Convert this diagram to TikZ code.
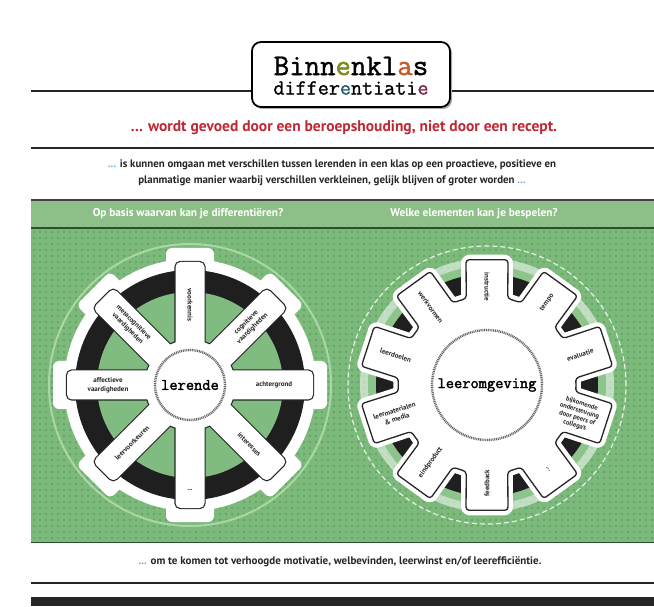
\documentclass[tikz,border=0pt]{standalone}
\usepackage{fontspec}
\setmainfont{PT Sans}
\newfontfamily\titlemono{Latin Modern Mono}[FakeBold=1.3]
\newfontfamily\hubmono{Latin Modern Mono}[FakeBold=2]
\definecolor{redtxt}{RGB}{190,40,52}
\definecolor{dottxt}{RGB}{100,170,210}
\definecolor{fieldgreen}{RGB}{124,186,124}
\definecolor{dotgreen}{RGB}{104,164,104}
\definecolor{headgreen}{RGB}{143,191,137}
\definecolor{darkgreen}{RGB}{40,80,45}
\definecolor{innergreen}{RGB}{128,188,128}
\definecolor{ringgreen}{RGB}{140,196,140}
\definecolor{palegreen}{RGB}{170,215,165}
\definecolor{tolive}{RGB}{130,140,30}
\definecolor{torange}{RGB}{200,90,40}
\definecolor{tteal}{RGB}{40,90,110}
\definecolor{tmaroon}{RGB}{120,40,80}
\tikzset{
  lab/.style={font=\bfseries\fontsize{7}{8.6}\selectfont, align=center, text=black!85, inner sep=0pt},
  rule/.style={line width=2.5pt, black!85},
  hubc/.style={circle, fill=white, draw=black!60, line width=2.4pt, dash pattern=on 1pt off 0.8pt, font=\hubmono\fontsize{16}{16}\selectfont, inner sep=0pt},
  spokebox/.style={rounded corners=5pt},
}
\begin{document}
\begin{tikzpicture}[x=1pt,y=1pt]
\useasboundingbox (0,0) rectangle (654,606);
\fill[white] (0,0) rectangle (654,606);

% ---- title area
\draw[rule] (31,515) -- (654,515);
\fill[black!35, rounded corners=9pt] (254,497) rectangle (452,562);
\node[draw, line width=1.8pt, rounded corners=9pt, fill=white, minimum width=198pt, minimum height=65pt] (title) at (351,531.5) {};
\node[inner sep=0pt] (t1) at (351,540) {\titlemono\fontsize{30}{30}\selectfont Binn\textcolor{tolive}{e}nkl\textcolor{torange}{a}s};
\node[inner sep=0pt] (t2) at (351,518) {\titlemono\fontsize{21.5}{21.5}\selectfont differ\textcolor{tteal}{e}ntiati\textcolor{tmaroon}{e}};

\node[text=redtxt, font=\bfseries\fontsize{15.5}{16}\selectfont] (red) at (344,478) {... wordt gevoed door een beroepshouding, niet door een recept.};
\draw[rule] (31,458) -- (654,458);

\node[align=center, text=black!85, font=\bfseries\fontsize{10.9}{16.5}\selectfont] (def) at (332,433)
 {\textcolor{dottxt}{...} is kunnen omgaan met verschillen tussen lerenden in een klas op een proactieve, positieve en\\
  planmatige manier waarbij verschillen verkleinen, gelijk blijven of groter worden \textcolor{dottxt}{...}};

% ---- green field
\fill[fieldgreen] (31,64) rectangle (654,378);
\foreach \yy in {68,74,...,374} \draw[dotgreen, line width=2pt, dash pattern=on 2pt off 4pt] (33,\yy) -- (654,\yy);
\fill[headgreen] (31,379) rectangle (654,405);
\draw[black!75, line width=1.6pt] (31,406) -- (654,406);
\draw[darkgreen, line width=1.6pt] (31,378) -- (654,378);
\draw[darkgreen, line width=1.6pt] (31,63.5) -- (654,63.5);
\node[text=white, font=\bfseries\fontsize{11.3}{12}\selectfont] (q1) at (188,392) {Op basis waarvan kan je differentiëren?};
\node[text=white, font=\bfseries\fontsize{11.3}{12}\selectfont] (q2) at (474,392) {Welke elementen kan je bespelen?};

% ---- left wheel
\begin{scope}[shift={(190,221)}]
  \draw[palegreen, line width=2pt] (0,0) circle (141);
  \fill[white] (0,0) circle (126);
  \foreach \a in {0,45,...,315} \fill[white, rotate=\a, rounded corners=6pt] (100,-24) rectangle (137,24);
  \fill[black!88] (0,0) circle (115);
  \fill[innergreen] (0,0) circle (93);
  \foreach \a in {0,45,...,315} \draw[black!85, line width=2.4pt, rotate=\a, spokebox] (0,-14.5) rectangle (123,14.5);
  \draw[black!85, line width=2.4pt] (0,0) circle (45);
  \foreach \a in {0,45,...,315} \fill[white, rotate=\a, spokebox] (0,-14.5) rectangle (123,14.5);
  \fill[white] (0,0) circle (45);
  \node[hubc, minimum size=70pt] (lerende) at (0,0) {lerende};
  \node[lab] (lA) at (0:84) {achtergrond};
  \node[lab, rotate=45] (lB) at (45:84) {cognitieve\\vaardigheden};
  \node[lab, rotate=-90] (lC) at (90:80) {voorkennis};
  \node[lab, rotate=-45] (lD) at (135:84) {metacognitieve\\vaardigheden};
  \node[lab] (lE) at (180:82) {affectieve\\vaardigheden};
  \node[lab, rotate=45] (lF) at (225:82) {leervoorkeuren};
  \node[lab] (lG) at (270:105) {...};
  \node[lab, rotate=-45] (lH) at (315:84) {interesses};
\end{scope}

% ---- right gear
\begin{scope}[shift={(487,221)}]
  \draw[white, line width=1.2pt, dash pattern=on 5pt off 3pt, opacity=.8] (0,0) circle (139);
  \fill[white, opacity=.55] (0,0) circle (127);
  \fill[ringgreen] (0,0) circle (119);
  \fill[black!88] (0,0) circle (111);
  \draw[white, fill=white, line width=10pt, line join=round, rounded corners=3pt]
    (0:89) \foreach \a in {18,54,...,342} { -- ({\a-13.5}:89) -- ({\a-9.5}:127) -- ({\a+9.5}:127) -- ({\a+13.5}:89) } -- cycle;
  \draw[black!85, fill=white, line width=1.3pt, line join=round, rounded corners=3pt]
    (0:89) \foreach \a in {18,54,...,342} { -- ({\a-13.5}:89) -- ({\a-9.5}:127) -- ({\a+9.5}:127) -- ({\a+13.5}:89) } -- cycle;
  \node[hubc, minimum size=110pt] (leeromgeving) at (0,0) {leeromgeving};
  \node[lab, rotate=-90] (gA) at (90:98) {instructie};
  \node[lab, rotate=54] (gB) at (54:102) {tempo};
  \node[lab, rotate=18] (gC) at (18:98) {evaluatie};
  \node[lab, rotate=-18, font=\bfseries\fontsize{6.6}{7.6}\selectfont] (gD) at (-18:96) {bijkomende\\ondersteuning\\door peers of\\collega's};
  \node[lab, rotate=-54] (gE) at (-54:104) {...};
  \node[lab, rotate=90] (gF) at (-90:98) {feedback};
  \node[lab, rotate=54] (gG) at (-126:96) {eindproduct};
  \node[lab, rotate=18] (gH) at (-162:96) {leermaterialen\\\& media};
  \node[lab, rotate=-18] (gI) at (162:96) {leerdoelen};
  \node[lab, rotate=-54] (gJ) at (126:96) {werkvormen};
\end{scope}

% ---- bottom
\node[text=black!85, font=\bfseries\fontsize{11}{12}\selectfont] (concl) at (340,44)
 {\textcolor{dottxt}{...} om te komen tot verhoogde motivatie, welbevinden, leerwinst en/of leerefficiëntie.};
\draw[rule] (31,23) -- (654,23);
\fill[black!85] (31,0) rectangle (654,9);
\end{tikzpicture}
\end{document}
